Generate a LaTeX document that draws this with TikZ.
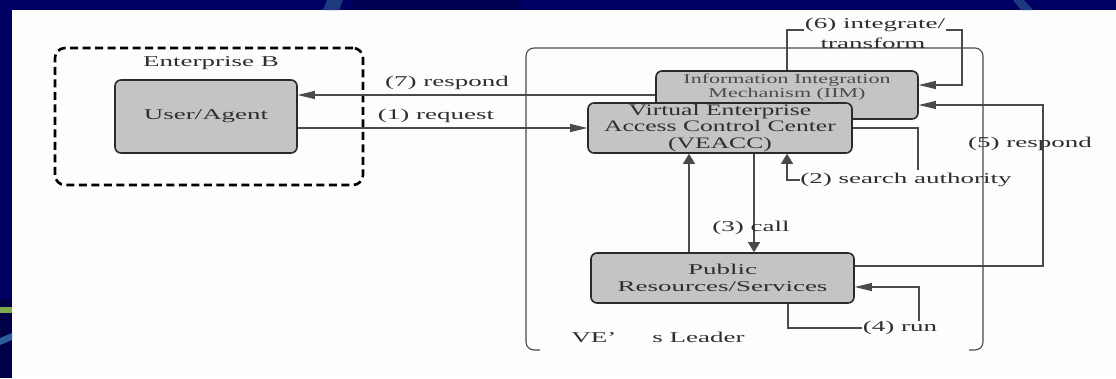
\documentclass[tikz,border=0pt]{standalone}
\usepackage{fontspec}
\setmainfont{Liberation Serif}
% wide serif faces used for the labels and box texts
\newfontfamily\lblfont[FakeStretch=1.8]{Liberation Serif}
\newfontfamily\ctrfont[FakeStretch=1.6]{Liberation Serif}
\newfontfamily\iimfont[FakeStretch=1.63]{Liberation Serif}
\usetikzlibrary{arrows.meta}

\definecolor{navy}{HTML}{000062}
\definecolor{navydark}{HTML}{000046}
\definecolor{streak}{HTML}{1E3A7E}
\definecolor{leafgreen}{HTML}{7BAA4F}
\definecolor{skyblue}{HTML}{2C5E9E}
\definecolor{paper}{HTML}{FDFDFD}
\definecolor{boxfill}{HTML}{C4C4C4}
\definecolor{boxline}{HTML}{2A2A2A}
\definecolor{wirecol}{HTML}{4A4A4A}
\definecolor{ink}{HTML}{2E2E2E}
\definecolor{softink}{HTML}{4A4A4A}

\tikzset{
  box/.style={draw=boxline, line width=1.6pt, fill=boxfill, rounded corners=6pt,
              inner sep=0pt, align=center, text=ink},
  lbl/.style={font=\lblfont\fontsize{15}{17}\selectfont, text=ink, inner sep=0.5pt, align=center},
  groupbox/.style={draw=black, line width=2.6pt, dash pattern=on 8pt off 4.5pt,
                   rounded corners=10pt, inner sep=0pt},
  frame/.style={draw=wirecol, line width=1.1pt, rounded corners=8pt},
  wire/.style={draw=wirecol, line width=1.1pt},
  harr/.style={wire, -{Triangle[length=17pt,width=8pt]}},
  varr/.style={wire, -{Triangle[length=10pt,width=12pt]}},
}

\begin{document}
\begin{tikzpicture}[x=1pt, y=-1pt]
\useasboundingbox (0,0) rectangle (1116,378);

% slide background
\fill[paper] (0,0) rectangle (1116,378);
\fill[navy] (0,0) rectangle (1116,10);
\fill[navydark!60!navy] (353,0) rectangle (518,10);
\fill[streak] (327,0) -- (343,0) -- (339,10) -- (323,10) -- cycle;
\fill[streak] (1013,0) -- (1024,0) -- (1033,10) -- (1021,10) -- cycle;
\fill[navy] (0,0) rectangle (12,299);
\fill[navydark] (0,299) rectangle (12,378);
\fill[leafgreen] (0,307) rectangle (12,313);
\fill[skyblue] (0,338) -- (12,333) -- (12,340) -- (0,345) -- cycle;

% Enterprise B
\node[groupbox, minimum width=308pt, minimum height=137pt] (entbox) at (209,116.5) {};
\node[lbl] (entb) at (211,63) {Enterprise B};
\node[box, minimum width=182pt, minimum height=73pt, font=\lblfont\fontsize{15}{17}\selectfont]
  (user) at (206,116.5) {User/Agent};

% VE's leader frame (open at the bottom)
\draw[frame] (540,350) -- (526,350) -- (526,48) -- (983,48) -- (983,350) -- (969,350);
\node[lbl] (lead) at (658,337) {VE’\hspace{36pt}s Leader};

% components of the leader
\node[box, minimum width=262pt, minimum height=48pt] (iim) at (787,95) {};
\node[inner sep=0pt, align=center, text=softink, font=\iimfont\fontsize{13.5}{14}\selectfont]
  (iimtxt) at (787,87) {Information Integration\\Mechanism (IIM)};
\node[box, minimum width=264pt, minimum height=50pt, font=\ctrfont\fontsize{16}{16.5}\selectfont]
  (veacc) at (720,128) {Virtual Enterprise\\Access Control Center\\(VEACC)};
\node[box, minimum width=263pt, minimum height=50pt, font=\lblfont\fontsize{15}{17}\selectfont]
  (prs) at (722.5,278) {Public\\Resources/Services};

% (1) request and (7) respond
\draw[harr] (veacc.west -| user.east) -- (veacc.west);
\node[lbl] (l1) at (436,116) {(1) request};
\draw[harr] (iim.west) -- (iim.west -| user.east);
\node[lbl] (l7) at (447,83) {(7) respond};

% (2) search authority
\coordinate (s2a) at (918,170);
\coordinate (s2b) at (787,180);
\draw[wire] (veacc.east) -- (veacc.east -| s2a) -- (s2a);
\node[lbl] (l2) at (906,180) {(2) search authority};
\draw[varr] (l2.west) -- (l2.west -| s2b) -- (veacc.south -| s2b);

% (3) call and the answer back to the centre
\coordinate (upx) at (689,0);
\coordinate (callx) at (754,0);
\draw[varr] (prs.north -| upx) -- (veacc.south -| upx);
\draw[varr] (veacc.south -| callx) -- (prs.north -| callx);
\node[lbl] (l3) at (751,228) {(3) call};

% (4) run
\coordinate (r4a) at (788,328);
\coordinate (r4b) at (919,287);
\node[lbl] (l4) at (900,328) {(4) run};
\draw[wire] (prs.south -| r4a) -- (r4a) -- (l4.west);
\draw[harr] (r4b |- l4.north) -- (r4b) -- (prs.east |- r4b);

% (5) respond
\coordinate (r5a) at (1043,266);
\coordinate (r5b) at (1043,105);
\draw[harr] (prs.east |- r5a) -- (r5a) -- (r5b) -- (iim.east |- r5b);
\node[lbl] (l5) at (1030,144) {(5) respond};

% (6) integrate / transform
\node[lbl] (l6a) at (875,25) {(6) integrate/};
\node[lbl] (l6b) at (873,43) {transform};
\coordinate (i6a) at (787,30);
\coordinate (i6b) at (962,30);
\coordinate (i6c) at (962,85);
\draw[wire] (iim.north) -- (i6a) -- (i6a -| l6a.west);
\draw[harr] (i6b -| l6a.east) -- (i6b) -- (i6c) -- (iim.east |- i6c);
\end{tikzpicture}
\end{document}
